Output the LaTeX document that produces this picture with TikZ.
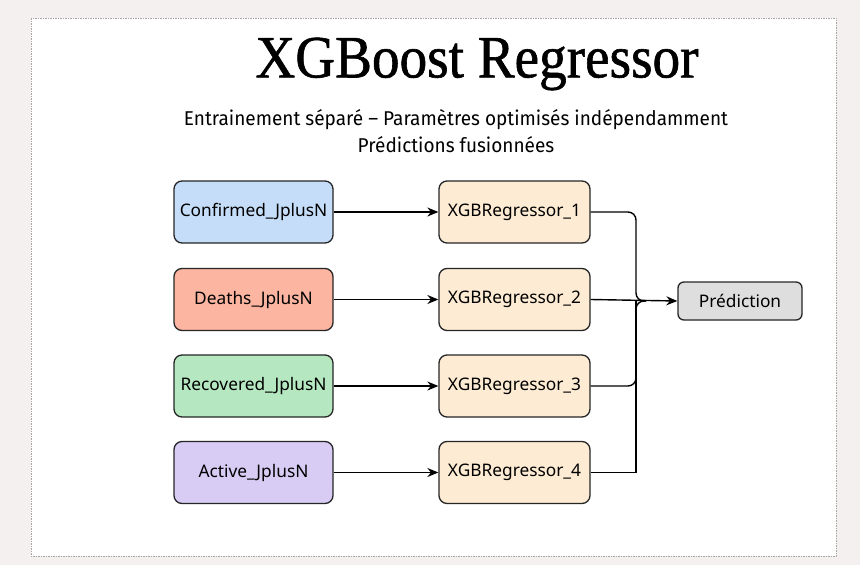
\documentclass[tikz,border=0pt]{standalone}
\usepackage{fontspec}
\setmainfont{Noto Sans}
\newfontfamily\titlefont[FakeStretch=0.92,FakeBold=1]{Liberation Serif}
\newfontfamily\subfont[FakeStretch=0.95]{Fira Sans}
\usetikzlibrary{arrows.meta}
\definecolor{pagebg}{HTML}{F3F0EF}
\definecolor{confcol}{HTML}{C5DDF8}
\definecolor{deathcol}{HTML}{FBB5A0}
\definecolor{reccol}{HTML}{B5E8C0}
\definecolor{actcol}{HTML}{D8CCF5}
\definecolor{regcol}{HTML}{FDEBD3}
\definecolor{predcol}{HTML}{DEDEDE}
\tikzset{
	box/.style={draw=black!85, line width=1.3pt, rounded corners=8pt, minimum height=62pt, inner sep=2pt, font=\fontsize{17.3}{20}\selectfont},
	inbox/.style={box, minimum width=159pt},
	regbox/.style={box, fill=regcol, minimum width=151pt},
	link/.style={line width=1.4pt, -{Stealth[length=11pt,width=9pt]}},
}

\begin{document}
\begin{tikzpicture}[x=1pt,y=-1pt]
		%Frame
		\fill[pagebg] (0,0) rectangle (860,565);
		\useasboundingbox (0,0) rectangle (860,565);
		\draw[fill=white, draw=gray!70, line width=0.6pt, dash pattern=on 1.5pt off 1pt] (31,18) rectangle (836,556);
		%Titles
		\node (title) at (477,64) {\titlefont\fontsize{60}{66}\selectfont XGBoost Regressor};
		\node[align=center, font=\subfont\fontsize{20}{27}\selectfont] (sub) at (456,131) {Entrainement séparé – Paramètres optimisés indépendamment\\Prédictions fusionnées};
		%Inputs
		\node[inbox, fill=confcol] (conf) at (253.5,212) {Confirmed\_JplusN};
		\node[inbox, fill=deathcol] (death) at (253.5,299.5) {Deaths\_JplusN};
		\node[inbox, fill=reccol] (rec) at (253.5,386) {Recovered\_JplusN};
		\node[inbox, fill=actcol] (act) at (253.5,472.5) {Active\_JplusN};
		%Regressors
		\node[regbox] (reg1) at (514.5,212) {XGBRegressor\_1};
		\node[regbox] (reg2) at (514.5,299.5) {XGBRegressor\_2};
		\node[regbox] (reg3) at (514.5,386) {XGBRegressor\_3};
		\node[regbox] (reg4) at (514.5,472.5) {XGBRegressor\_4};
		%Output
		\node[box, fill=predcol, minimum width=124pt, minimum height=38pt, rounded corners=6pt] (pred) at (740,301) {Prédiction};
		\coordinate (join) at (636,301);
		%Arrows
		\draw[link] (conf) -- (reg1);
		\draw[link] (death) -- (reg2);
		\draw[link] (rec) -- (reg3);
		\draw[link] (act) -- (reg4);
		\draw[line width=1.4pt] (reg4.east) -| (join);
		\draw[line width=1.4pt, rounded corners=8pt] (reg1.east) -| (join) -- ++(10,0);
		\draw[line width=1.4pt, rounded corners=8pt] (reg3.east) -| (join) -- ++(10,0);
		\draw[link] (reg2.east) -- (pred.west);
\end{tikzpicture}
\end{document}
